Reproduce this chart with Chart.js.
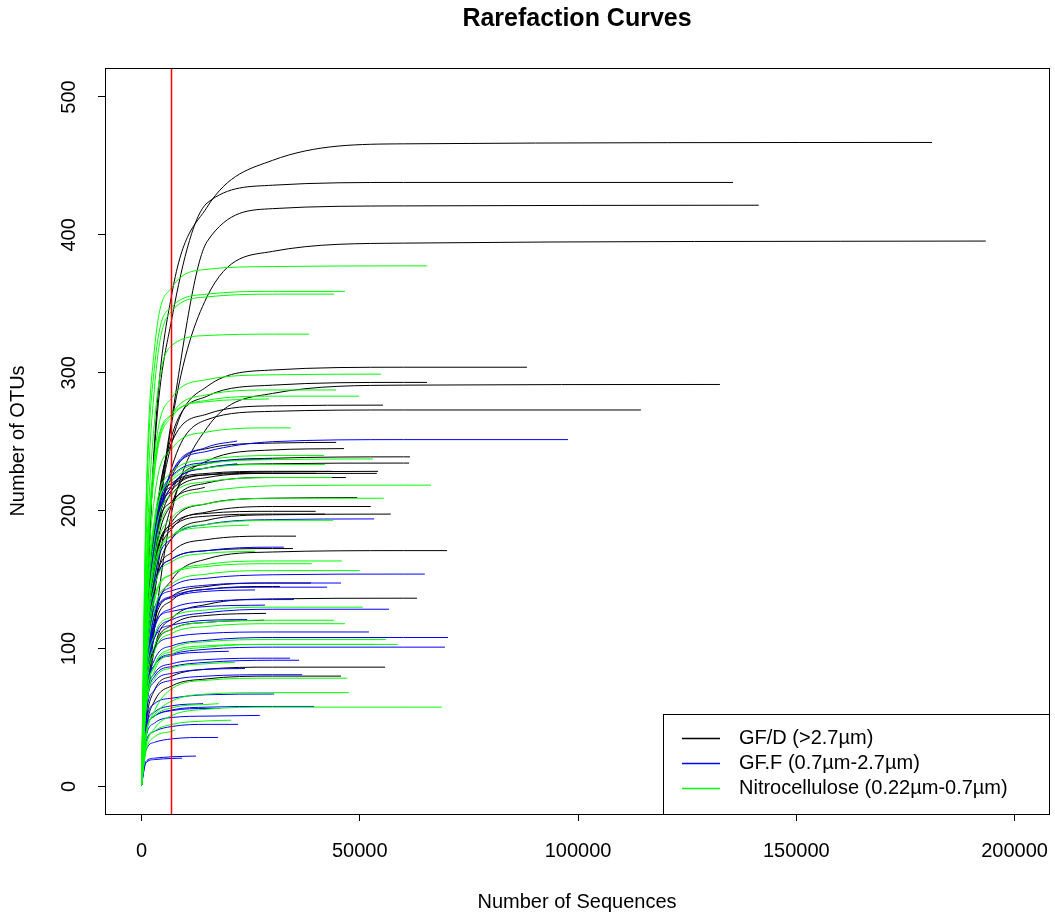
<!DOCTYPE html>
<html>
<head>
<meta charset="utf-8">
<title>Rarefaction Curves</title>
<script src="https://cdn.jsdelivr.net/npm/chart.js@4.4.1/dist/chart.umd.min.js"></script>
<style>
  html, body { margin: 0; padding: 0; background: #fff; }
  #wrap { width: 1055px; height: 920px; }
</style>
</head>
<body>
<div id="wrap"><canvas id="rare" width="1055" height="920"></canvas></div>
<script>
const sampleDepths = [1000, 3000, 7000, 15000, 30000, 60000];

// one row per sample: [total sequences, final OTUs, OTUs at each sampleDepth below the total]
const gfdCurves = [
  [181100, 467, 105, 250, 358, 420, 454, 466],
  [135500, 438, 110, 245, 340, 423, 436, 438],
  [141400, 421.5, 80, 170, 268, 395, 419, 421],
  [193400, 395.5, 70, 160, 265, 355, 388, 394],
  [88300, 304, 70, 170, 250, 290, 302, 304],
  [132500, 291.5, 50, 115, 200, 260, 285, 291],
  [65400, 293, 80, 180, 255, 283, 291, 293],
  [55300, 276.5, 85, 185, 250, 270, 276],
  [114400, 273, 70, 165, 232, 266, 272, 273],
  [44600, 249.5, 80, 170, 225, 245, 249],
  [46400, 245, 60, 140, 205, 236, 244],
  [61500, 239, 75, 165, 215, 234, 238, 239],
  [61300, 234.5, 80, 170, 218, 231, 234, 234.5],
  [54200, 228.5, 90, 180, 215, 226, 228],
  [53900, 227, 85, 175, 212, 224, 227],
  [43600, 228.5, 100, 190, 220, 227, 228.5],
  [40000, 227, 95, 185, 218, 226, 227],
  [46800, 224, 70, 160, 205, 220, 224],
  [49400, 209.5, 75, 155, 192, 205, 209],
  [52500, 203, 70, 150, 187, 199, 203],
  [39900, 199.5, 85, 160, 190, 198, 199.5],
  [57100, 197.5, 65, 140, 180, 193, 197],
  [42000, 197.5, 80, 160, 188, 196, 197.5],
  [35400, 181.5, 75, 145, 170, 179, 181.5],
  [34700, 172.5, 80, 145, 165, 171, 172.5],
  [70000, 171, 60, 120, 150, 165, 170, 171],
  [38800, 147.5, 70, 120, 138, 145, 147.5],
  [31700, 145, 65, 115, 135, 143, 145],
  [63100, 136.5, 50, 100, 122, 132, 136, 136.5],
  [28500, 125.5, 60, 100, 117, 124],
  [28100, 120.5, 65, 100, 114, 119],
  [55800, 86.5, 45, 70, 80, 85, 86.5],
  [45700, 80, 40, 62, 73, 78, 80],
  [14500, 217, 95, 175, 207]
];

const gffCurves = [
  [97700, 251.5, 80, 170, 228, 243, 250, 251.5],
  [21900, 250.5, 90, 180, 228, 246],
  [29900, 237.5, 95, 185, 225, 235],
  [21900, 234, 90, 175, 218, 231],
  [53300, 194, 75, 150, 180, 190, 193.5],
  [32600, 173.5, 80, 145, 165, 171, 173.5],
  [64900, 154, 70, 125, 145, 151, 153.5, 154],
  [45700, 147.5, 80, 130, 142, 146, 147.5],
  [42500, 144.5, 75, 125, 138, 143, 144.5],
  [26000, 142.5, 80, 125, 137, 141.5],
  [34900, 135.5, 70, 115, 129, 134, 135.5],
  [28300, 131.5, 75, 118, 127, 130.5],
  [56700, 128.5, 65, 108, 121, 126, 128.5],
  [24200, 121, 70, 108, 117, 120.5],
  [52100, 112, 70, 100, 108, 111, 112],
  [70200, 108, 60, 92, 102, 106, 108, 108],
  [69500, 101, 60, 88, 96, 99.5, 101, 101],
  [20000, 98, 65, 88, 95, 97.5],
  [34000, 93, 60, 82, 89, 92, 93],
  [36100, 91.5, 55, 80, 87, 90, 91.5],
  [23700, 85.5, 55, 76, 82, 85],
  [36800, 81, 50, 70, 77, 80, 81],
  [30400, 67, 45, 60, 64, 66.5, 67],
  [14100, 60, 42, 54, 58.5],
  [39500, 58, 40, 51, 55.5, 57.5, 58],
  [18000, 56.5, 40, 51, 55, 56.5],
  [27100, 51.5, 35, 46, 50, 51],
  [22100, 45, 32, 40, 43.5, 45],
  [17500, 35.5, 26, 32, 34.5, 35.5],
  [12500, 22, 18, 20.5, 21.5],
  [9300, 20.5, 17, 19.5, 20.3]
];

const nitroCurves = [
  [65400, 377.5, 200, 318, 362, 375, 377, 377.5],
  [46600, 359, 190, 305, 348, 357, 359],
  [44100, 357, 170, 290, 345, 355, 357],
  [38400, 328, 150, 265, 320, 327, 328],
  [54900, 299, 140, 240, 282, 295, 298.5],
  [44600, 287.5, 130, 230, 270, 284, 287.5],
  [49800, 283, 135, 228, 268, 280, 283],
  [29200, 281, 140, 235, 270, 279],
  [34200, 260, 125, 210, 245, 257, 260],
  [41800, 240, 120, 195, 228, 237, 240],
  [53000, 237.5, 115, 190, 224, 234, 237],
  [42000, 233.5, 115, 190, 222, 231, 233.5],
  [43600, 224, 110, 180, 212, 221, 224],
  [66300, 218.5, 100, 170, 205, 214, 218, 218.5],
  [55500, 209, 100, 165, 195, 205, 209],
  [43900, 193, 95, 155, 182, 190, 193],
  [24600, 189.5, 100, 160, 182, 188],
  [26000, 170.5, 95, 145, 163, 169],
  [45900, 163.5, 85, 135, 154, 161, 163.5],
  [39000, 161.5, 90, 138, 154, 159.5, 161.5],
  [50000, 156.5, 80, 128, 147, 154, 156.5],
  [50700, 130, 75, 110, 123, 128, 130],
  [44100, 120.5, 70, 102, 114, 119, 120.5],
  [46600, 118, 65, 98, 111, 116, 118],
  [56000, 106.5, 60, 88, 100, 105, 106.5],
  [58700, 103, 55, 84, 96, 101, 103],
  [53500, 103, 60, 87, 98, 102, 103],
  [21400, 90, 55, 78, 86, 89],
  [47100, 78.5, 35, 55, 71, 77, 78.5],
  [47500, 68, 38, 52, 62, 67, 68],
  [68800, 57.5, 28, 42, 51.5, 56, 57.5, 57.5],
  [17700, 60, 38, 51, 57, 59.5],
  [20500, 48, 30, 40, 45, 47.5],
  [7700, 41, 25, 36, 40]
];

const groupNames = ['GF/D (>2.7µm)', 'GF.F (0.7µm-2.7µm)', 'Nitrocellulose (0.22µm-0.7µm)'];
const groupColors = ['#000000', '#0000ff', '#00ff00'];
const xTicks = [0, 50000, 100000, 150000, 200000];
const yTicks = [0, 100, 200, 300, 400, 500];
const rarefyDepth = 6700;

const FONT = '"Liberation Sans", Arial, sans-serif';

function toPoints(row) {
  const depth = row[0];
  const pts = [{ x: 1, y: 1 }];
  sampleDepths.forEach((d, i) => {
    const v = row[i + 2];
    if (v !== undefined && d < depth) pts.push({ x: d, y: v });
  });
  pts.push({ x: depth, y: row[1] });
  return pts;
}

const datasets = [];
[gfdCurves, gffCurves, nitroCurves].forEach((curves, g) => {
  curves.forEach(row => {
    datasets.push({
      data: toPoints(row),
      borderColor: groupColors[g],
      borderWidth: 1,
      pointRadius: 0,
      fill: false,
      cubicInterpolationMode: 'monotone',
      order: 2 - g
    });
  });
});

// R style decorations: box, red abline, rotated y labels, titles, legend
const rDecor = {
  id: 'rDecor',
  afterDatasetsDraw(chart) {
    const { ctx, chartArea: a, scales } = chart;
    const rx = Math.round(scales.x.getPixelForValue(rarefyDepth)) + 0.5;
    ctx.save();
    ctx.strokeStyle = '#ff0000';
    ctx.lineWidth = 1.5;
    ctx.beginPath();
    ctx.moveTo(rx, a.top);
    ctx.lineTo(rx, a.bottom);
    ctx.stroke();
    ctx.restore();
  },
  afterDraw(chart) {
    const { ctx, chartArea: a, scales } = chart;
    ctx.save();
    ctx.strokeStyle = '#000';
    ctx.lineWidth = 1;

    // legend
    const lx = a.right - 386, ly = a.bottom - 100;
    ctx.fillStyle = '#fff';
    ctx.fillRect(lx, ly, a.right - lx, a.bottom - ly);
    ctx.strokeRect(lx + 0.5, ly + 0.5, a.right - lx, a.bottom - ly);
    ctx.font = '20px ' + FONT;
    ctx.textAlign = 'left';
    ctx.textBaseline = 'middle';
    groupNames.forEach((name, i) => {
      const y = Math.round(ly + 24 + i * 25) + 0.5;
      ctx.strokeStyle = groupColors[i];
      ctx.lineWidth = 1.5;
      ctx.beginPath();
      ctx.moveTo(lx + 19, y);
      ctx.lineTo(lx + 57, y);
      ctx.stroke();
      ctx.fillStyle = '#000';
      ctx.fillText(name, lx + 76, y);
    });

    // plot box
    ctx.strokeStyle = '#000';
    ctx.lineWidth = 1;
    ctx.strokeRect(Math.round(a.left) + 0.5, Math.round(a.top) + 0.5,
      Math.round(a.right - a.left), Math.round(a.bottom - a.top));

    // y tick labels, rotated like R
    ctx.fillStyle = '#000';
    ctx.textAlign = 'center';
    yTicks.forEach(v => {
      const y = scales.y.getPixelForValue(v);
      ctx.save();
      ctx.translate(a.left - 36, y);
      ctx.rotate(-Math.PI / 2);
      ctx.fillText(String(v), 0, 0);
      ctx.restore();
    });

    // axis titles
    const cx = (a.left + a.right) / 2, cy = (a.top + a.bottom) / 2;
    ctx.fillText('Number of Sequences', cx, a.bottom + 88);
    ctx.save();
    ctx.translate(a.left - 87, cy);
    ctx.rotate(-Math.PI / 2);
    ctx.fillText('Number of OTUs', 0, 0);
    ctx.restore();

    // main title
    ctx.font = 'bold 25px ' + FONT;
    ctx.fillText('Rarefaction Curves', cx, 19);
    ctx.restore();
  }
};

new Chart(document.getElementById('rare'), {
  type: 'line',
  data: { datasets },
  options: {
    responsive: false,
    animation: false,
    devicePixelRatio: 1,
    layout: { padding: { top: 68, right: 6, left: 0, bottom: 0 } },
    plugins: {
      legend: { display: false },
      tooltip: { enabled: false },
      title: { display: false }
    },
    events: [],
    scales: {
      x: {
        type: 'linear',
        min: -8360,
        max: 207880,
        afterBuildTicks: s => { s.ticks = xTicks.map(v => ({ value: v })); },
        afterFit: s => { s.height = 106; s.paddingLeft = 0; s.paddingRight = 0; },
        grid: { drawOnChartArea: false, drawTicks: true, tickLength: 7, color: '#000' },
        border: { display: false },
        ticks: {
          color: '#000',
          font: { family: FONT, size: 20 },
          padding: 18,
          maxRotation: 0,
          autoSkip: false,
          callback: v => String(v)
        }
      },
      y: {
        type: 'linear',
        min: -20,
        max: 521,
        afterBuildTicks: s => { s.ticks = yTicks.map(v => ({ value: v })); },
        afterFit: s => { s.width = 105; s.paddingTop = 0; s.paddingBottom = 0; },
        grid: { drawOnChartArea: false, drawTicks: true, tickLength: 7, color: '#000' },
        border: { display: false },
        ticks: { display: false }
      }
    }
  },
  plugins: [rDecor]
});
</script>
</body>
</html>
